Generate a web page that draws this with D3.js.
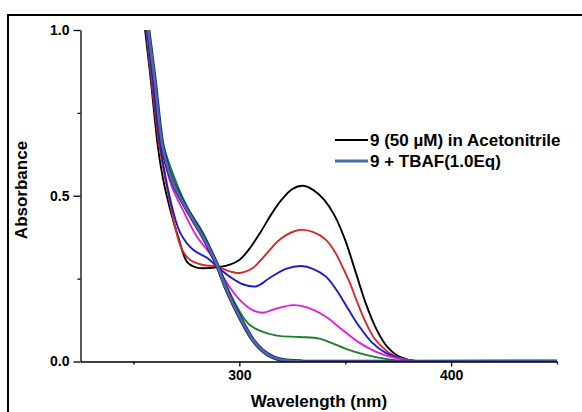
<!DOCTYPE html>
<html>
<head>
<meta charset="utf-8">
<script src="https://cdn.jsdelivr.net/npm/d3@7"></script>
<style>
  html, body { margin: 0; padding: 0; background: #fff; }
  svg { display: block; }
  text { font-family: "Liberation Sans", Arial, sans-serif; font-weight: bold; fill: #000; }
</style>
</head>
<body>
<svg id="chart" width="582" height="412"></svg>
<script>
// UV-vis titration spectra: [wavelength (nm), absorbance]
const seriesNames = ["free", "step1", "step2", "step3", "step4", "step5", "tbaf"];
const seriesColors = ["#000000", "#d42a2a", "#1c1ccc", "#dd22dd", "#1f7f2a", "#5a1a9a", "#4a6aa6"];

const free = [[255.5,1.0],[258,0.86],[261.7,0.64],[264,0.55],[267.4,0.457],[271.1,0.376],[275.4,0.3],[280,0.283],[286,0.282],[290,0.285],[294,0.289],[300,0.306],[305,0.342],[310,0.39],[315,0.443],[320,0.488],[325,0.52],[330,0.53],[335,0.517],[340,0.488],[345,0.44],[350,0.366],[355,0.268],[360,0.17],[365,0.094],[370,0.043],[375,0.016],[380,0.005],[385,0.001],[390,0],[450,0]];
const step1 = [[256,1.0],[262,0.66],[266,0.52],[269.7,0.405],[272.9,0.338],[276.8,0.306],[282.9,0.291],[289.4,0.287],[295.5,0.272],[300.2,0.267],[306.3,0.282],[310,0.305],[314.3,0.336],[318,0.362],[322.3,0.382],[326,0.393],[329.8,0.397],[335,0.39],[340.9,0.367],[345,0.332],[348.6,0.287],[352,0.24],[355,0.19],[358,0.142],[361.3,0.097],[364,0.068],[367.4,0.044],[371,0.025],[375.4,0.012],[380,0.004],[386,0],[450,0]];
const step2 = [[256,1.0],[262,0.68],[267,0.5],[272.1,0.388],[278.2,0.337],[284.7,0.313],[289.4,0.287],[295.5,0.256],[301.6,0.233],[308.2,0.227],[314.3,0.252],[322.3,0.28],[329.2,0.288],[335,0.279],[340.9,0.256],[345,0.224],[348.6,0.188],[352,0.152],[356.6,0.106],[362.7,0.057],[369.1,0.026],[375.4,0.01],[382,0.002],[388,0],[450,0]];
const step3 = [[256.3,1.0],[263,0.66],[268,0.53],[273.5,0.455],[280,0.376],[286.2,0.325],[289.4,0.29],[294.1,0.237],[300.2,0.186],[306.3,0.155],[311,0.147],[317.6,0.16],[325.1,0.17],[329.2,0.168],[335,0.156],[340.9,0.135],[348.6,0.096],[356.6,0.057],[364.4,0.03],[372,0.013],[380,0.004],[387,0],[450,0]];
const step4 = [[256.5,1.0],[263,0.68],[269,0.56],[275.4,0.466],[282.9,0.388],[289.4,0.296],[295.5,0.207],[301.6,0.136],[305,0.11],[309.6,0.093],[317.6,0.078],[328.4,0.074],[337.8,0.069],[344,0.055],[350.3,0.038],[359.7,0.02],[369.1,0.008],[378,0.001],[385,0],[450,0]];
const step5 = [[256.8,1.0],[263.5,0.64],[268.5,0.54],[275,0.46],[282.5,0.38],[289.4,0.293],[294,0.22],[300,0.138],[306,0.068],[311,0.034],[317,0.011],[324,0.002],[330,0],[450,0]];
const tbaf = [[257,1.0],[260,0.85],[264.1,0.638],[268.8,0.538],[275.4,0.457],[282.9,0.376],[289.4,0.292],[294.1,0.216],[300.2,0.134],[306.3,0.066],[311,0.033],[316.7,0.011],[323.7,0.002],[330,0],[450,0]];

const xMajorTicks = [300, 400];
const xMinorTicks = [250, 350, 450];
const yMajorTicks = [0.0, 0.5, 1.0];
const yMinorTicks = [0.25, 0.75];
const legendLabels = ["9 (50 \u00b5M) in Acetonitrile", "9 + TBAF(1.0Eq)"];

const svg = d3.select("#chart");
const plot = { left: 80.5, right: 557, top: 30, bottom: 361.5 };

const x = d3.scaleLinear().domain([225, 450]).range([plot.left, plot.right]);
const y = d3.scaleLinear().domain([0, 1.0]).range([plot.bottom, plot.top]);

// outer frame (top and left edges visible)
svg.append("rect")
  .attr("x", 8).attr("y", 15).attr("width", 600).attr("height", 420)
  .attr("fill", "none").attr("stroke", "#000").attr("stroke-width", 2);

svg.append("defs").append("clipPath").attr("id", "plotClip")
  .append("rect").attr("x", plot.left).attr("y", plot.top)
  .attr("width", plot.right - plot.left).attr("height", plot.bottom - plot.top + 0.5);

const line = d3.line().x(d => x(d[0])).y(d => y(d[1])).curve(d3.curveCatmullRom.alpha(0.5));
const g = svg.append("g").attr("clip-path", "url(#plotClip)");

const all = { free, step1, step2, step3, step4, step5, tbaf };
// draw spectra, the final one on top with a darker rim
seriesNames.forEach((name, i) => {
  if (name === "tbaf") {
    g.append("path").datum(all[name]).attr("d", line)
      .attr("fill", "none").attr("stroke", "#22227a").attr("stroke-width", 4.2);
    g.append("path").datum(all[name]).attr("d", line)
      .attr("fill", "none").attr("stroke", seriesColors[i]).attr("stroke-width", 2.6);
  } else {
    g.append("path").datum(all[name]).attr("d", line)
      .attr("fill", "none").attr("stroke", seriesColors[i]).attr("stroke-width", 1.9);
  }
});

// axes
svg.append("g").attr("transform", `translate(0,${plot.bottom})`)
  .call(d3.axisBottom(x).tickValues(xMajorTicks).tickSize(5).tickSizeOuter(0).tickPadding(4).tickFormat(d3.format("d")));
svg.append("g").attr("transform", `translate(0,${plot.bottom})`)
  .call(d3.axisBottom(x).tickValues(xMinorTicks).tickSize(3).tickSizeOuter(0).tickFormat(""))
  .select(".domain").remove();

svg.append("g").attr("transform", `translate(${plot.left},0)`)
  .call(d3.axisLeft(y).tickValues(yMajorTicks).tickSize(7).tickSizeOuter(0).tickPadding(4).tickFormat(d3.format(".1f")));
svg.append("g").attr("transform", `translate(${plot.left},0)`)
  .call(d3.axisLeft(y).tickValues(yMinorTicks).tickSize(3).tickSizeOuter(0).tickFormat(""))
  .select(".domain").remove();

svg.selectAll(".domain, .tick line").attr("stroke", "#000").attr("stroke-width", 1.3);
svg.selectAll(".tick text")
  .style("font-family", "'Liberation Sans', Arial, sans-serif")
  .style("font-weight", "bold").style("font-size", "14px").attr("fill", "#000");

// axis titles
svg.append("text").attr("x", 319).attr("y", 407).attr("text-anchor", "middle")
  .style("font-size", "17px").text("Wavelength (nm)");
svg.append("text").attr("transform", "translate(27,190) rotate(-90)").attr("text-anchor", "middle")
  .style("font-size", "17px").text("Absorbance");

// legend
const legendColors = [seriesColors[0], seriesColors[6]];
const legendY = [140, 161];
legendLabels.forEach((t, i) => {
  svg.append("line").attr("x1", 335).attr("x2", 368).attr("y1", legendY[i]).attr("y2", legendY[i])
    .attr("stroke", legendColors[i]).attr("stroke-width", i === 0 ? 1.8 : 3);
  svg.append("text").attr("x", 370).attr("y", legendY[i] + 6)
    .style("font-size", "17px").text(t);
});
</script>
</body>
</html>
